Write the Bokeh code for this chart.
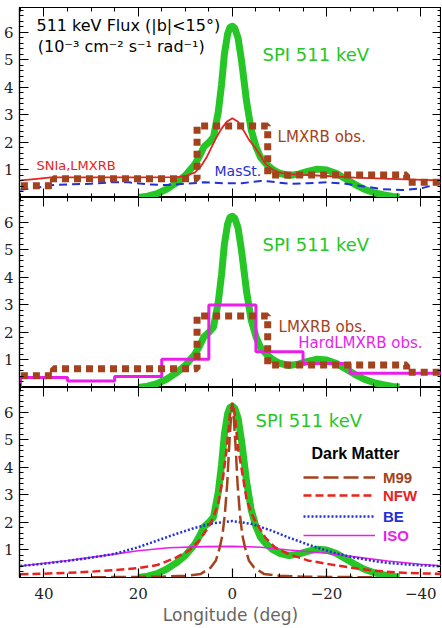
from bokeh.plotting import figure
from bokeh.models import Range1d, LinearAxis, FixedTicker, Label, Legend, LegendItem
from bokeh.layouts import column
from bokeh.embed import file_html
from bokeh.resources import INLINE

# ---------------- data ----------------
# SPI 511 keV longitude profile
spi_l = [20, 18, 16, 14, 12, 10, 8, 7, 6, 5, 4, 3, 2.3, 1.7, 1, 0.5, 0, -0.5, -1.2, -2,
         -3, -4, -5, -6, -7, -8.5, -10, -12, -14, -16, -18, -20, -22, -24, -26, -28, -30, -32, -34, -35.5]
spi_v = [0.0, 0.05, 0.14, 0.3, 0.52, 0.8, 1.2, 1.5, 1.85, 2.0, 2.2, 3.1, 4.1, 5.2, 5.95, 6.18, 6.22, 6.15, 5.8, 4.9,
         3.5, 2.45, 1.85, 1.45, 1.25, 1.02, 0.88, 0.8, 0.85, 0.95, 1.03, 1.0, 0.88, 0.68, 0.48, 0.3, 0.18, 0.1, 0.04, 0.02]

# SNIa,LMXRB model
snia_l = [45, 42, 38.5, 30, 20, 12, 10, 8, 6.6, 5.5, 4.5, 3.5, 2.3, 1.2, 0, -1.2, -2.5, -3.5, -4.9, -6,
          -7, -8.5, -10, -12, -15, -20, -26, -35, -45]
snia_v = [0.62, 0.67, 0.73, 0.73, 0.73, 0.74, 0.78, 0.9, 1.15, 1.45, 1.8, 2.15, 2.5, 2.75, 2.88, 2.75, 2.4, 2.1, 1.8, 1.5,
          1.22, 1.02, 0.9, 0.85, 0.82, 0.78, 0.72, 0.67, 0.62]

# MasSt. model
masst_l = [45, 42, 38, 34, 30, 26, 22, 18, 14, 10, 6, 2, -2, -6, -8, -12, -16, -20, -24, -28, -32, -36, -40, -45]
masst_v = [0.28, 0.35, 0.45, 0.48, 0.5, 0.55, 0.55, 0.48, 0.45, 0.5, 0.55, 0.52, 0.52, 0.6, 0.58, 0.5, 0.52, 0.55,
           0.5, 0.4, 0.3, 0.27, 0.33, 0.55]

# LMXRB obs. (binned)
lmxrb_edges = [50, 38, 7.5, -7.5, -37, -50]
lmxrb_vals = [0.43, 0.68, 2.6, 0.82, 0.55]

# HardLMXRB obs. (binned)
hard_edges = [45, 35, 25, 15, 5, -5, -15, -25, -45]
hard_vals = [0.36, 0.24, 0.40, 1.03, 3.0, 1.3, 0.87, 0.52]

# Dark matter profiles
m99_l = [30, 20, 15, 10, 6.7, 4.6, 3.5, 2.7, 2.1, 1.6, 1.1, 0.7, 0.3, 0, -0.3, -0.7, -1.1, -1.6, -2.1, -2.7,
         -3.5, -4.6, -6.7, -10, -15, -20, -30]
m99_v = [0.01, 0.02, 0.03, 0.06, 0.13, 0.36, 0.62, 1.08, 1.55, 2.3, 3.4, 4.7, 5.8, 6.3, 5.8, 4.7, 3.4, 2.3, 1.55, 1.08,
         0.62, 0.36, 0.13, 0.06, 0.03, 0.02, 0.01]

nfw_l = [45, 40, 35, 30, 25, 20, 16, 12, 9, 7, 5, 4, 3, 2, 1.2, 0.5, 0, -0.5, -1.2, -2,
         -3, -4, -5, -7, -9, -12, -16, -20, -25, -30, -35, -40, -45]
nfw_v = [0.12, 0.14, 0.17, 0.21, 0.27, 0.34, 0.45, 0.72, 1.0, 1.35, 1.85, 2.2, 2.7, 3.6, 4.7, 5.95, 6.35, 5.95, 4.7, 3.9,
         2.85, 2.35, 2.0, 1.45, 1.1, 0.85, 0.62, 0.5, 0.36, 0.25, 0.18, 0.15, 0.13]

be_l = [45, 40, 35, 30, 25, 20, 15, 12, 8, 4, 0, -4, -8, -12, -16, -19, -22, -26, -30, -33, -38, -45]
be_v = [0.42, 0.5, 0.6, 0.72, 0.86, 1.1, 1.4, 1.58, 1.8, 1.97, 2.05, 1.95, 1.72, 1.45, 1.2, 1.03, 0.88, 0.72, 0.6,
        0.53, 0.46, 0.4]

iso_l = [45, 40, 35, 30, 25, 20, 13.5, 6, 0, -6, -12, -20, -26, -33, -40, -45]
iso_v = [0.42, 0.52, 0.62, 0.73, 0.85, 0.97, 1.08, 1.12, 1.13, 1.1, 1.0, 0.88, 0.75, 0.6, 0.48, 0.42]

x_major = [40, 20, 0, -20, -40]
x_minor = [45, 35, 30, 25, 15, 10, 5, -5, -10, -15, -25, -30, -35, -45]
x_labels = {-20: "\u221220", -40: "\u221240"}
y_major = [1, 2, 3, 4, 5, 6]
y_minor = [round(0.2 * i, 1) for i in range(0, 35) if i % 5 != 0]

# ---------------- style ----------------
GREEN = "#27c627"
BROWN = "#a3421c"
RED = "#e8221e"
BLUE = "#2230d6"
MAGENTA = "#ea1eea"
SANS = "DejaVu Sans"
SERIF = "DejaVu Serif"

xr = Range1d(45.2, -44.4)


def step_xy(edges, vals, close=False):
    xs, ys = [], []
    for i, v in enumerate(vals):
        xs += [edges[i], edges[i + 1]]
        ys += [v, v]
    if close:
        xs = [edges[0]] + xs + [edges[-1]]
        ys = [0] + ys + [0]
    return xs, ys


def base_axis(ax):
    ax.axis_line_color = "black"
    ax.axis_line_width = 1.2
    ax.major_tick_out = 0
    ax.minor_tick_out = 0
    ax.major_tick_line_color = "black"
    ax.minor_tick_line_color = "black"
    ax.major_tick_line_width = 1.2
    ax.minor_tick_line_width = 1.0


def labelled_axis(ticks, minor, **kw):
    ax = LinearAxis(ticker=FixedTicker(ticks=ticks, minor_ticks=minor), **kw)
    base_axis(ax)
    ax.major_tick_in = 9
    ax.minor_tick_in = 4
    ax.major_label_text_font = SERIF
    ax.major_label_text_font_size = "15px"
    ax.major_label_text_color = "#222222"
    return ax


def tick_only_axes(p, side, ticks, minor):
    # two label-free axes: one for the long ticks, one for the short ones
    for positions, length in ((ticks, 9), (minor, 4)):
        ax = LinearAxis(ticker=FixedTicker(ticks=[], minor_ticks=positions))
        base_axis(ax)
        ax.major_tick_in = 0
        ax.minor_tick_in = length
        ax.major_label_standoff = 0
        p.add_layout(ax, side)


def make_fig(height, top_border, bottom_border):
    p = figure(width=441, height=height, x_range=xr, y_range=Range1d(0, 6.9),
               x_axis_type=None, y_axis_type=None, toolbar_location=None,
               output_backend="svg", min_border_left=18, min_border_right=0,
               min_border_top=top_border, min_border_bottom=bottom_border)
    p.outline_line_color = "black"
    p.outline_line_width = 1.2
    p.background_fill_color = "white"
    p.border_fill_color = "white"
    left = labelled_axis(y_major, y_minor)
    left.major_label_standoff = 6
    p.add_layout(left, "left")
    tick_only_axes(p, "right", y_major, y_minor)
    tick_only_axes(p, "above", x_major, x_minor)
    return p


def add_label(p, x, y, text, color, size, font=SANS, style="normal"):
    p.add_layout(Label(x=x, y=y, text=text, text_color=color, text_font=font,
                       text_font_size=size, text_font_style=style,
                       text_baseline="middle", text_align="left"))


# ---------------- panel 1 ----------------
p1 = make_fig(197, 7, 0)
tick_only_axes(p1, "below", x_major, x_minor)
p1.line(spi_l, spi_v, line_color=GREEN, line_width=7, line_join="round")
p1.line(masst_l, masst_v, line_color=BLUE, line_width=2, line_dash="8 5")
p1.line(snia_l, snia_v, line_color=RED, line_width=1.8)
lx, ly = step_xy(lmxrb_edges, lmxrb_vals)
p1.line(lx, ly, line_color=BROWN, line_width=7, line_dash="7 5")
add_label(p1, 41.6, 6.24, "511 keV Flux (|b|<15\u00b0)", "black", "16px")
add_label(p1, 41.3, 5.47, "(10\u207b\u00b3 cm\u207b\u00b2 s\u207b\u00b9 rad\u207b\u00b9)", "black", "16px")
add_label(p1, -6.4, 5.2, "SPI 511 keV", GREEN, "18px")
add_label(p1, -9.6, 2.2, "LMXRB obs.", BROWN, "15px")
add_label(p1, 41.6, 1.16, "SNIa,LMXRB", RED, "13px")
add_label(p1, 3.8, 0.98, "MasSt.", BLUE, "14px")

# ---------------- panel 2 ----------------
p2 = make_fig(190, 0, 0)
tick_only_axes(p2, "below", x_major, x_minor)
p2.line(spi_l, spi_v, line_color=GREEN, line_width=7, line_join="round")
hx, hy = step_xy(hard_edges, hard_vals, close=True)
p2.line(hx, hy, line_color=MAGENTA, line_width=3)
p2.line(lx, ly, line_color=BROWN, line_width=7, line_dash="7 5")
add_label(p2, -6.4, 5.2, "SPI 511 keV", GREEN, "18px")
add_label(p2, -9.8, 2.2, "LMXRB obs.", BROWN, "15px")
add_label(p2, -14.0, 1.6, "HardLMXRB obs.", MAGENTA, "15px")

# ---------------- panel 3 ----------------
p3 = make_fig(240, 0, 50)
bottom = labelled_axis(x_major, x_minor, axis_label="Longitude (deg)")
bottom.major_label_overrides = x_labels
bottom.major_label_standoff = 10
bottom.axis_label_standoff = 3
bottom.axis_label_text_font = SANS
bottom.axis_label_text_font_size = "17px"
bottom.axis_label_text_font_style = "normal"
bottom.axis_label_text_color = "#666666"
p3.add_layout(bottom, "below")

p3.line(spi_l, spi_v, line_color=GREEN, line_width=7, line_join="round")
r_iso = p3.line(iso_l, iso_v, line_color=MAGENTA, line_width=1.6)
r_be = p3.line(be_l, be_v, line_color=BLUE, line_width=2.5, line_dash="2 2")
r_nfw = p3.line(nfw_l, nfw_v, line_color=RED, line_width=2.5, line_dash="8 4")
r_m99 = p3.line(m99_l, m99_v, line_color=BROWN, line_width=2.5, line_dash="15 5")
add_label(p3, -4.9, 5.69, "SPI 511 keV", GREEN, "18px")
add_label(p3, -16.8, 4.49, "Dark Matter", "black", "16px", font="Liberation Sans", style="bold")

for name, rend, col, ypos in [("M99", r_m99, BROWN, 90), ("NFW", r_nfw, RED, 72),
                              ("BE", r_be, BLUE, 51), ("ISO", r_iso, MAGENTA, 32)]:
    leg = Legend(items=[LegendItem(label=name, renderers=[rend])], location=(284, ypos),
                 glyph_width=72, glyph_height=20, label_height=20, label_standoff=8,
                 padding=0, margin=0, spacing=0, border_line_color=None,
                 background_fill_alpha=0, label_text_color=col, label_text_font="Liberation Sans",
                 label_text_font_size="15px", label_text_font_style="bold")
    p3.add_layout(leg)

layout = column(p1, p2, p3)
open("out.html", "w").write(file_html(layout, INLINE))
